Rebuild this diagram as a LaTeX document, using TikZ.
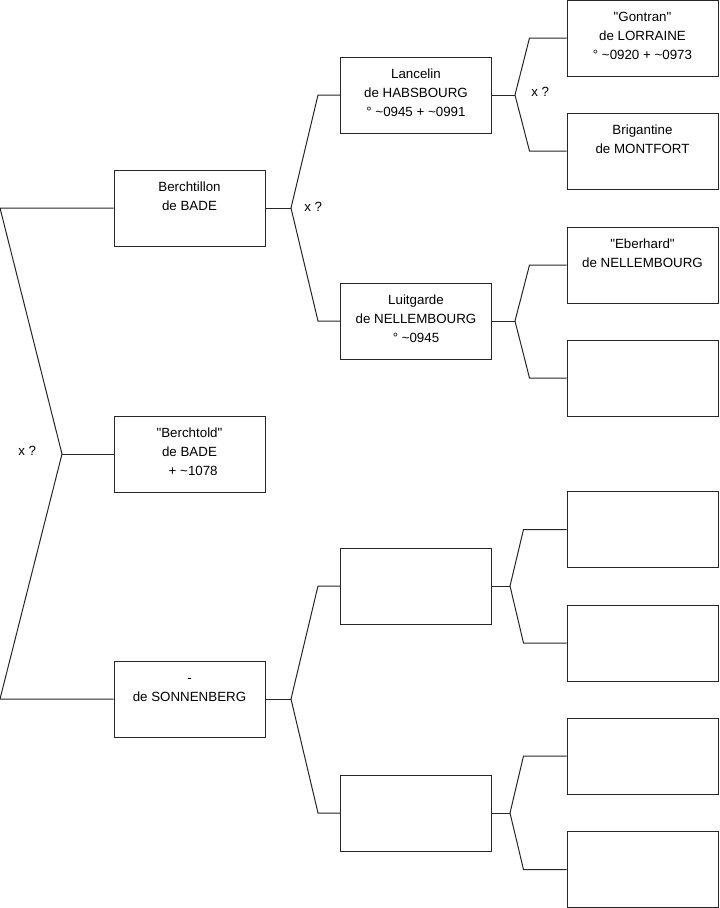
\documentclass[tikz,border=0pt]{standalone}
\usepackage{fontspec}
\setmainfont{Liberation Sans}[Ligatures=TeXOff]
\newcommand\bxt[1]{\parbox[c][56.25pt][t]{112pt}{\centering\fontsize{10pt}{14.25pt}\selectfont\rule{0pt}{16pt}#1\par}}
\newcommand\qq{\symbol{34}}
\begin{document}
\begin{tikzpicture}[x=0.75pt,y=-0.75pt,
  pbox/.style={draw=black!85,line width=0.75pt,inner sep=0pt,minimum width=113.25pt,minimum height=57pt,fill=white},
  conn/.style={draw=black!85,line width=0.75pt,line join=miter},
  lbl/.style={font=\fontsize{10pt}{12pt}\selectfont,inner sep=0pt,anchor=west}]
\useasboundingbox[fill=white] (0,0) rectangle (719,908);
% column 1
\node[pbox] (A) at (189.5,208) {\bxt{Berchtillon\\de BADE}};
\node[pbox] (B) at (189.5,454) {\bxt{\qq Berchtold\qq\\de BADE\\\ \ + \textasciitilde1078}};
\node[pbox] (C) at (189.5,699) {\bxt{-\\de SONNENBERG}};
% column 2
\node[pbox] (L) at (416,95) {\bxt{Lancelin\\de HABSBOURG\\° \textasciitilde0945 + \textasciitilde0991}};
\node[pbox] (M) at (416,321) {\bxt{Luitgarde\\de NELLEMBOURG\\° \textasciitilde0945}};
\node[pbox] (N) at (416,586) {};
\node[pbox] (O) at (416,813) {};
% column 3
\node[pbox] (G) at (642.5,38) {\bxt{\qq Gontran\qq\\de LORRAINE\\° \textasciitilde0920 + \textasciitilde0973}};
\node[pbox] (H) at (642.5,151) {\bxt{Brigantine\\de MONTFORT}};
\node[pbox] (E) at (642.5,265) {\bxt{\qq Eberhard\qq\\de NELLEMBOURG}};
\node[pbox] (F) at (642.5,378) {};
\node[pbox] (P) at (642.5,529.5) {};
\node[pbox] (Q) at (642.5,643) {};
\node[pbox] (R) at (642.5,756) {};
\node[pbox] (S) at (642.5,869.5) {};
% junctions
\coordinate (rt) at (0,208);
\coordinate (rj) at (62,454);
\coordinate (rb) at (0,699);
\coordinate (jA) at (291,208);
\coordinate (jC) at (291,699);
\coordinate (jL) at (515,95);
\coordinate (jM) at (515,321);
\coordinate (jN) at (510,586);
\coordinate (jO) at (510,813);
% connectors
\draw[conn] (A.west) -- (rt) -- (rj) -- (rb) -- (C.west);
\draw[conn] (rj) -- (B.west);
\draw[conn] (A.east) -- (jA);
\draw[conn] (L.west) -- ([xshift=-22*0.75pt]L.west) -- (jA) -- ([xshift=-22*0.75pt]M.west) -- (M.west);
\draw[conn] (C.east) -- (jC);
\draw[conn] (N.west) -- ([xshift=-22*0.75pt]N.west) -- (jC) -- ([xshift=-22*0.75pt]O.west) -- (O.west);
\draw[conn] (L.east) -- (jL);
\draw[conn] (G.west) -- ([xshift=-37*0.75pt]G.west) -- (jL) -- ([xshift=-37*0.75pt]H.west) -- (H.west);
\draw[conn] (M.east) -- (jM);
\draw[conn] (E.west) -- ([xshift=-37*0.75pt]E.west) -- (jM) -- ([xshift=-37*0.75pt]F.west) -- (F.west);
\draw[conn] (N.east) -- (jN);
\draw[conn] (P.west) -- ([xshift=-43*0.75pt]P.west) -- (jN) -- ([xshift=-43*0.75pt]Q.west) -- (Q.west);
\draw[conn] (O.east) -- (jO);
\draw[conn] (R.west) -- ([xshift=-43*0.75pt]R.west) -- (jO) -- ([xshift=-43*0.75pt]S.west) -- (S.west);
% labels
\node[lbl] (x1) at (18,451) {x ?};
\node[lbl] (x2) at (304,207) {x ?};
\node[lbl] (x3) at (531,92) {x ?};
\end{tikzpicture}
\end{document}
